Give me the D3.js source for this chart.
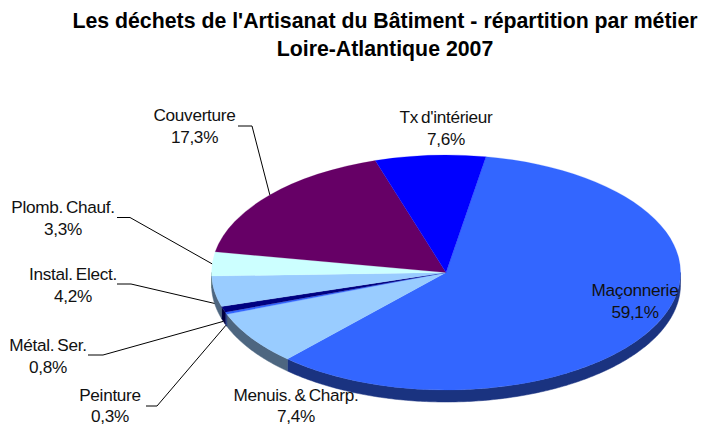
<!DOCTYPE html>
<html><head><meta charset="utf-8">
<script src="https://cdn.jsdelivr.net/npm/d3@7/dist/d3.min.js"></script>
<style>html,body{margin:0;padding:0;background:#fff}svg{display:block}text{font-family:"Liberation Sans",Arial,sans-serif}</style>
</head><body><svg id="c" width="701" height="425"></svg>
<script>
const titleLines = ["Les déchets de l'Artisanat du Bâtiment - répartition par métier", "Loire-Atlantique 2007"];
const categories = ["Maçonnerie", "Menuis. & Charp.", "Peinture", "Métal. Ser.", "Instal. Elect.", "Plomb. Chauf.", "Couverture", "Tx d'intérieur"];
const values = [59.1, 7.4, 0.3, 0.8, 4.2, 3.3, 17.3, 7.6];
const valueLabels = ["59,1%", "7,4%", "0,3%", "0,8%", "4,2%", "3,3%", "17,3%", "7,6%"];
const colors = ["#3366ff", "#99ccff", "#3366ff", "#000080", "#99ccff", "#ccffff", "#660066", "#0000ff"];

// Layout only: label centre, first baseline, line gap; then the leader elbow (start x, elbow x, y)
const labelPos = [[635,296,21.5],[296,401,20.5],[110,401,20.5],[48,351,21.5],[73,280,21.5],[63,213,21.5],[194.5,121,21.5],[446,123,21.5]];
const leaders = [null,null,[146,157,406],[88,103,355],[117,131,284],[117,130,217.5],[238,252,126],null];

const cx = 446, cy = 272.5, rx = 234.5, ry = 117.5, depth = 12;
const svg = d3.select("#c");

svg.selectAll("text.t").data(titleLines).join("text").attr("class","t")
  .attr("x",385).attr("y",(d,i)=>28+i*28).attr("text-anchor","middle")
  .attr("font-size",21.3).attr("font-weight","bold").attr("fill","#000").text(d=>d);

const startA = 9.8*Math.PI/180;
const pie = d3.pie().sort(null).startAngle(startA).endAngle(startA+2*Math.PI);
const arcs = pie(values);
const sx = d3.scaleLinear().domain([-1,1]).range([cx-rx,cx+rx]);
const sy = d3.scaleLinear().domain([-1,1]).range([cy-ry,cy+ry]);
const px = a => sx(Math.sin(a));
const py = a => sy(-Math.cos(a));

// Side walls: the part of each slice's rim on the near half of the ellipse
const wallLine = d3.line();
const wall = d => {
  const a0 = Math.max(d.startAngle, Math.PI/2), a1 = Math.min(d.endAngle, 3*Math.PI/2);
  if (a1 <= a0) return null;
  const n = Math.max(2, Math.ceil((a1-a0)*80));
  const top = d3.range(n+1).map(i => { const a=a0+(a1-a0)*i/n; return [px(a),py(a)]; });
  const bottom = top.map(p=>[p[0],p[1]+depth]).reverse();
  return wallLine(top.concat(bottom))+"Z";
};
const shade = c => { const r=d3.rgb(c); return d3.rgb(r.r*.5,r.g*.5,r.b*.5).formatHex(); };
svg.append("g").selectAll("path").data(arcs).join("path")
  .attr("d",wall).attr("fill",(d,i)=>shade(colors[i])).attr("stroke",(d,i)=>shade(colors[i])).attr("stroke-width",.5);

// Top face: d3.arc on a unit circle scaled into an ellipse
const arc = d3.arc().innerRadius(0).outerRadius(rx);
svg.append("g").attr("transform",`translate(${cx},${cy}) scale(1,${ry/rx})`)
  .selectAll("path").data(arcs).join("path")
  .attr("d",arc).attr("fill",(d,i)=>colors[i]).attr("stroke",(d,i)=>colors[i]).attr("stroke-width",.3);

// Leaders end on the rim at each slice's mid angle
const leaderLine = d3.line();
svg.append("g").selectAll("path").data(arcs).join("path")
  .attr("d",(d,i)=>{
    const l = leaders[i]; if(!l) return null;
    const a=(d.startAngle+d.endAngle)/2;
    const yEnd = py(a)+(a>Math.PI/2&&a<3*Math.PI/2?depth:0);
    return leaderLine([[l[0],l[2]],[l[1],l[2]],[px(a),yEnd]]);
  }).attr("fill","none").attr("stroke","#000").attr("stroke-width",1);

const lab = svg.append("g").selectAll("g").data(categories).join("g");
const common = s => s.attr("text-anchor","middle").attr("font-size",17.2).attr("letter-spacing",-0.3).attr("word-spacing",-1.5).attr("fill","#111");
lab.append("text").attr("x",(d,i)=>labelPos[i][0]).attr("y",(d,i)=>labelPos[i][1]).call(common).text(d=>d);
lab.append("text").attr("x",(d,i)=>labelPos[i][0]).attr("y",(d,i)=>labelPos[i][1]+labelPos[i][2]).call(common).text((d,i)=>valueLabels[i]);
</script></body></html>
